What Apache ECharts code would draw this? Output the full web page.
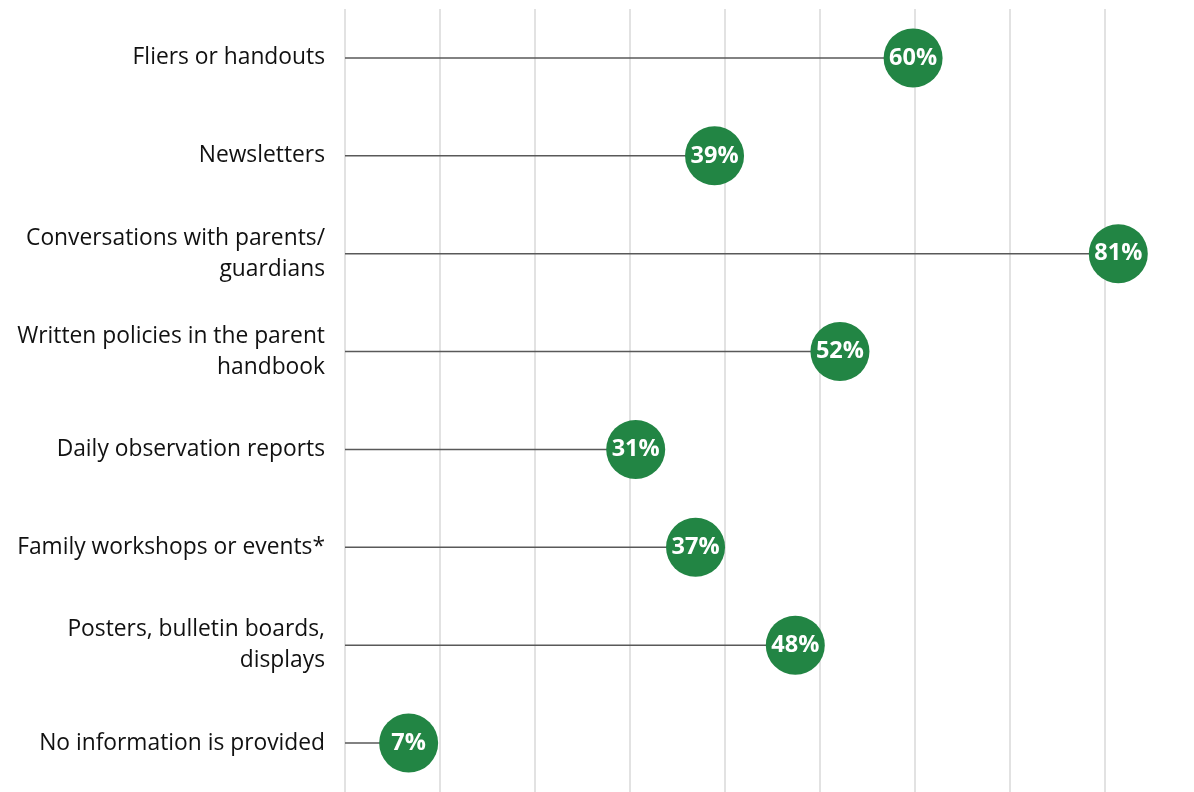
<!DOCTYPE html>
<html><head><meta charset="utf-8">
<script src="https://cdn.jsdelivr.net/npm/echarts@6/dist/echarts.min.js"></script>
<style>html,body{margin:0;padding:0;background:#fff}#c{width:1194px;height:792px}</style>
</head><body><div id="c"></div>
<script>
const categories = [
  "Fliers or handouts",
  "Newsletters",
  "Conversations with parents/\nguardians",
  "Written policies in the parent\nhandbook",
  "Daily observation reports",
  "Family workshops or events*",
  "Posters, bulletin boards,\ndisplays",
  "No information is provided"
];
const values = [59.8, 38.9, 81.4, 52.1, 30.6, 36.9, 47.4, 6.7];
const labels = ["60%", "39%", "81%", "52%", "31%", "37%", "48%", "7%"];
const xTicks = [0, 10, 20, 30, 40, 50, 60, 70, 80];

const chart = echarts.init(document.getElementById('c'), null, {renderer: 'canvas'});
const FONT = '"Open Sans", "Noto Sans", sans-serif';
chart.setOption({
  animation: false,
  grid: {left: 345, top: 9, width: 760, height: 789, containLabel: false},
  xAxis: {
    type: 'value', min: xTicks[0], max: xTicks[xTicks.length - 1], interval: 10,
    axisLabel: {show: false}, axisLine: {show: false}, axisTick: {show: false},
    splitLine: {show: true, lineStyle: {color: '#d9d9d9', width: 1.5}}
  },
  yAxis: {
    type: 'category', data: categories, inverse: true,
    axisLine: {show: false}, axisTick: {show: false},
    axisLabel: {color: '#111111', fontSize: 22.8, fontFamily: FONT, margin: 20, lineHeight: 31, align: 'right'}
  },
  series: [
    {
      type: 'bar', data: values, barWidth: 1.5, silent: true, clip: false,
      itemStyle: {color: '#595959'}, z: 2
    },
    {
      type: 'scatter', data: values, symbol: 'circle', symbolSize: 59, z: 3, clip: false,
      itemStyle: {color: '#228544', opacity: 1},
      label: {
        show: true, position: 'inside', color: '#ffffff', fontWeight: 'bold',
        fontSize: 23.5, fontFamily: FONT,
        formatter: p => labels[p.dataIndex]
      }
    }
  ]
});
</script>
</body></html>
